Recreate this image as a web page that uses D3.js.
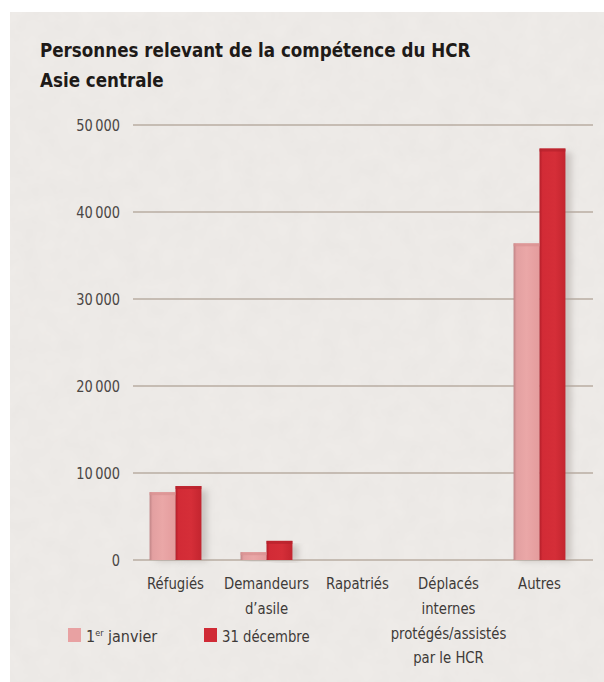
<!DOCTYPE html>
<html>
<head>
<meta charset="utf-8">
<script src="https://cdn.jsdelivr.net/npm/d3@7"></script>
<style>
	body { margin: 0; background: #fff; }
	text { font-family: "DejaVu Sans Condensed", "DejaVu Sans", sans-serif; font-stretch: condensed; }
</style>
</head>
<body>
<div id="chart"></div>
<script>
// categories (multi-line labels) and the two series
var categories = ['Réfugiés', 'Demandeurs\nd’asile', 'Rapatriés', 'Déplacés\ninternes\nprotégés/assistés\npar le HCR', 'Autres'];
var janvier = [7800, 900, 0, 0, 36400];
var decembre = [8500, 2200, 0, 0, 47300];
var yTicks = [0, 10000, 20000, 30000, 40000, 50000];
var seriesNames = ['janvier', 'décembre'];

var width = 604, height = 682;
var plot = {left: 130, right: 585, top: 125, bottom: 560};

var svg = d3.select('#chart')
	.append('svg')
		.attr('width', width)
		.attr('height', height);

var defs = svg.append('defs');

// paper texture
var paper = defs.append('filter').attr('id', 'paper').attr('x', 0).attr('y', 0).attr('width', '100%').attr('height', '100%');
paper.append('feTurbulence').attr('type', 'fractalNoise').attr('baseFrequency', 0.05).attr('numOctaves', 3).attr('seed', 4).attr('result', 'noise');
paper.append('feColorMatrix').attr('in', 'noise').attr('type', 'matrix')
	.attr('values', '0 0 0 0 0.6  0 0 0 0 0.58  0 0 0 0 0.56  0 0 0 0.16 -0.03');
paper.append('feComposite').attr('in2', 'SourceGraphic').attr('operator', 'over');

var blur = defs.append('filter').attr('id', 'shadow').attr('x', '-50%').attr('width', '200%');
blur.append('feGaussianBlur').attr('stdDeviation', 3);

function grad(id, stops){
	var g = defs.append('linearGradient').attr('id', id).attr('x1', 0).attr('x2', 1).attr('y1', 0).attr('y2', 0);
	stops.forEach(function(s){ g.append('stop').attr('offset', s[0]).attr('stop-color', s[1]); });
}
grad('gLight', [[0, '#c08486'], [0.12, '#e3a0a1'], [0.5, '#eaa7a7'], [1, '#e49c9d']]);
grad('gDark', [[0, '#b41e29'], [0.12, '#d22b36'], [0.6, '#d52e38'], [1, '#c3252f']]);

// squeeze a text to a fraction of its natural width (the original uses a condensed face)
function condense(sel, k){
	sel.each(function(){
		var w = this.getComputedTextLength();
		d3.select(this).attr('textLength', w * k).attr('lengthAdjust', 'spacingAndGlyphs');
	});
}

// background: white frame then paper
svg.append('rect').attr('width', width).attr('height', height).attr('fill', '#fff');
svg.append('rect')
	.attr('x', 10).attr('y', 12)
	.attr('width', width - 10).attr('height', height - 12)
	.attr('fill', '#eeebe8')
	.attr('filter', 'url(#paper)');

// title
var title = svg.append('g').selectAll('text')
	.data(['Personnes relevant de la compétence du HCR', 'Asie centrale']).enter()
	.append('text')
		.attr('x', 40)
		.attr('y', function(d, i){ return 57 + i * 30; })
		.style('font-size', '20px').style('font-weight', 'bold').attr('fill', '#1e1a18')
		.text(function(d){ return d; });
condense(title, 0.93);

// scales
var y = d3.scaleLinear().domain([0, 50000]).range([plot.bottom, plot.top]);
var x0 = d3.scaleBand().domain(categories).range([plot.left, plot.right]).paddingInner(0.43).paddingOuter(0.215);
var x1 = d3.scaleBand().domain(seriesNames).range([0, x0.bandwidth()]);

// gridlines + y labels
var yAxis = d3.axisLeft(y)
	.tickValues(yTicks)
	.tickSize(0)
	.tickFormat(function(d){ return d3.format(',')(d).replace(',', '\u2009'); });
var gy = svg.append('g').attr('transform', 'translate(120,0)').call(yAxis);
gy.select('.domain').remove();
gy.selectAll('text').attr('fill', '#4a4644').style('font-size', '16px').attr('x', 0).attr('dy', '0.36em');
condense(gy.selectAll('text'), 0.9);

svg.append('g').selectAll('line')
	.data(yTicks).enter()
	.append('line')
		.attr('x1', 133).attr('x2', 593)
		.attr('y1', function(d){ return y(d); })
		.attr('y2', function(d){ return y(d); })
		.attr('stroke', '#b8aca2')
		.attr('stroke-width', 1.5);

// bars
var rows = categories.map(function(c, i){ return {cat: c, vals: [janvier[i], decembre[i]]}; });
var groups = svg.append('g').selectAll('g')
	.data(rows).enter()
	.append('g')
		.attr('transform', function(d){ return 'translate(' + x0(d.cat) + ',0)'; });

var barData = function(d){
	return d.vals.map(function(v, k){ return {key: seriesNames[k], v: v}; }).filter(function(b){ return b.v > 0; });
};

// shadow behind each bar
groups.selectAll('.shadow')
	.data(barData).enter()
	.append('rect')
		.attr('class', 'shadow')
		.attr('x', function(d){ return x1(d.key) + 6; })
		.attr('y', function(d){ return y(d.v) + 4; })
		.attr('width', x1.bandwidth())
		.attr('height', function(d){ return plot.bottom - y(d.v) - 3; })
		.attr('fill', '#a8a09c')
		.attr('opacity', 0.5)
		.attr('filter', 'url(#shadow)');

groups.selectAll('.bar')
	.data(barData).enter()
	.append('rect')
		.attr('class', 'bar')
		.attr('x', function(d){ return x1(d.key); })
		.attr('y', function(d){ return y(d.v); })
		.attr('width', x1.bandwidth())
		.attr('height', function(d){ return plot.bottom - y(d.v); })
		.attr('fill', function(d){ return d.key == 'janvier' ? 'url(#gLight)' : 'url(#gDark)'; });

// little darker top bevel
groups.selectAll('.top')
	.data(barData).enter()
	.append('rect')
		.attr('class', 'top')
		.attr('x', function(d){ return x1(d.key); })
		.attr('y', function(d){ return y(d.v); })
		.attr('width', x1.bandwidth())
		.attr('height', 3)
		.attr('fill', function(d){ return d.key == 'janvier' ? '#d99192' : '#b5222c'; })
		.attr('opacity', 0.7);

// category labels, one text per line
var lines = [];
categories.forEach(function(c){
	c.split('\n').forEach(function(l, i){ lines.push({cat: c, line: l, i: i}); });
});
var labels = svg.append('g').selectAll('text')
	.data(lines).enter()
	.append('text')
		.attr('x', function(d){ return x0(d.cat) + x0.bandwidth() / 2; })
		.attr('y', function(d){ return 589 + d.i * 24.8; })
		.attr('text-anchor', 'middle')
		.attr('fill', '#3e3a38')
		.style('font-size', '16px')
		.text(function(d){ return d.line; });
condense(labels, 0.92);

// legend
var legend = svg.append('g');
legend.append('rect').attr('x', 68).attr('y', 628).attr('width', 13).attr('height', 14).attr('fill', '#e8a1a2');
var t1 = legend.append('text').attr('x', 86).attr('y', 642).attr('fill', '#3e3a38').style('font-size', '16px');
t1.append('tspan').text('1');
t1.append('tspan').attr('dy', -6).style('font-size', '9px').text('er');
t1.append('tspan').attr('dy', 6).text(' janvier');
legend.append('rect').attr('x', 204).attr('y', 628).attr('width', 13).attr('height', 14).attr('fill', '#d02a35');
var t2 = legend.append('text').attr('x', 222).attr('y', 642).attr('fill', '#3e3a38').style('font-size', '16px').text('31 décembre');
condense(t2, 0.92);
</script>
</body>
</html>
